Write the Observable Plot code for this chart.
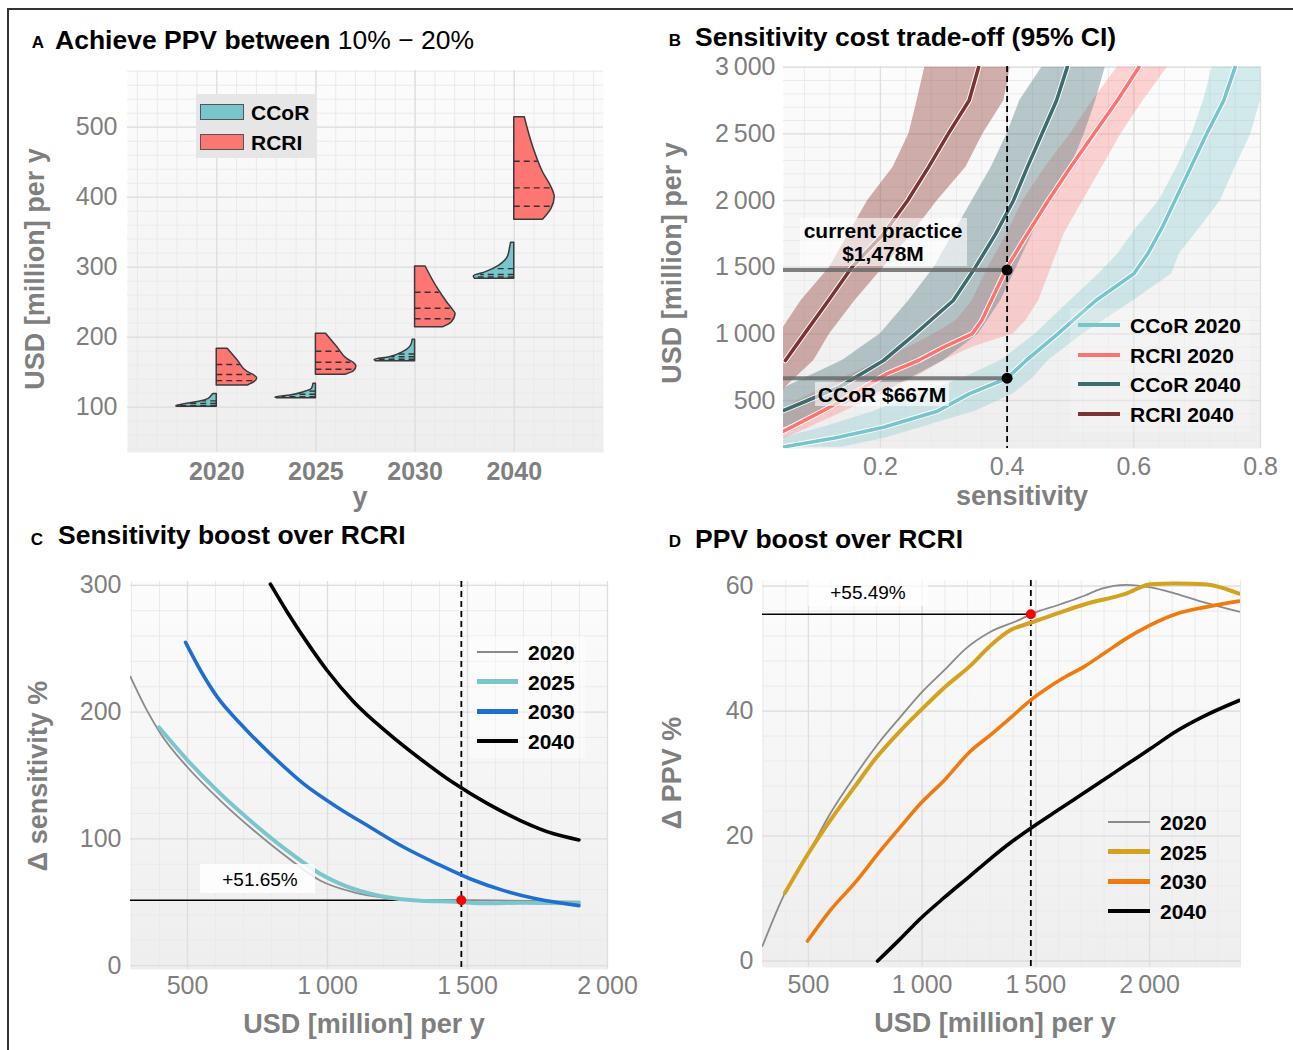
<!DOCTYPE html>
<html><head><meta charset="utf-8">
<script src="https://cdn.jsdelivr.net/npm/d3@7"></script>
<script src="https://cdn.jsdelivr.net/npm/@observablehq/plot@0.6"></script>
<style>
html,body{margin:0;padding:0;background:#fff;overflow:hidden}
#fig{position:relative;width:1293px;height:1050px;font-family:"Liberation Sans",Arial,Helvetica,sans-serif;overflow:hidden;background:#fff}
.abs{position:absolute;white-space:nowrap;line-height:1}
</style></head><body>
<svg width="0" height="0" style="position:absolute"><defs>
<linearGradient id="bgGrad" x1="0" y1="0" x2="0" y2="1"><stop offset="0" stop-color="#fcfcfc"/><stop offset="1" stop-color="#eeeeee"/></linearGradient>
</defs></svg>
<div id="fig"></div>
<script>
// ---------------- DATA ----------------
// Panel A: half-violin density profiles [value, relative density]
const yearsA = ["2020", "2025", "2030", "2040"];
const ccorViolins = [
  [[100.5,0.97],[101.5,1.0],[102.4,0.95],[105.7,0.66],[108.1,0.41],[112,0.2],[116.7,0.12],[119,0.08]],
  [[112.9,0.97],[114,1.0],[116.7,0.63],[121.4,0.3],[126.3,0.1],[133.4,0.06]],
  [[165.7,0.97],[167.7,1.0],[171.4,0.63],[178.6,0.3],[188,0.1],[196.3,0.06]],
  [[283.4,0.97],[286.7,1.0],[292.9,0.7],[302.4,0.37],[314.3,0.16],[328.6,0.1],[334.9,0.08]]
];
const rcriViolins = [
  [[131,0.77],[135.7,0.93],[141.4,1.0],[145.3,0.93],[150,0.77],[166.7,0.52],[183.4,0.27]],
  [[146.3,0.73],[151.4,0.94],[158,1.0],[162,0.96],[169,0.77],[185.7,0.53],[204.8,0.25]],
  [[214.3,0.7],[221.4,0.91],[233.4,1.0],[238,0.95],[250,0.79],[271.4,0.54],[301,0.26]],
  [[367.7,0.71],[383.4,0.92],[400,1.0],[414.3,0.92],[435.7,0.71],[471.4,0.47],[514.3,0.26]]
];
const ccorQuartiles = [[102.5,105.5,109],[115,118.5,123],[168.5,172,176],[286,289.5,298]];
const rcriQuartiles = [[138,146.7,161],[154.3,164.3,180],[226.3,241.4,264.3],[387.1,413.3,451.4]];

// Panel B: [USD, sensitivity low, sensitivity mid, sensitivity high]
const ccor2020B = [
  [150,0.00,0.045,0.14],[220,0.045,0.13,0.21],[300,0.11,0.205,0.265],[420,0.19,0.29,0.35],
  [550,0.26,0.34,0.41],[667,0.33,0.40,0.44],[800,0.39,0.43,0.465],[1000,0.445,0.48,0.52],
  [1250,0.5,0.54,0.6],[1450,0.545,0.6,0.66],[1600,0.575,0.622,0.672],[1800,0.605,0.645,0.705],
  [2000,0.64,0.665,0.737],[2250,0.668,0.69,0.76],[2500,0.692,0.715,0.785],[2750,0.71,0.742,0.8],
  [3000,0.724,0.76,0.82]
];
const rcri2020B = [
  [200,-0.02,null,0.04],[270,0.0,0.047,0.075],[400,0.035,0.1,0.135],[500,0.07,0.14,0.18],
  [600,0.11,0.175,0.225],[700,0.155,0.21,0.265],[800,0.2,0.26,0.3],[900,0.245,0.3,0.345],
  [1000,0.285,0.345,0.41],[1100,0.32,0.36,0.43],[1250,0.345,0.375,0.45],[1500,0.37,0.4,0.47],
  [1750,0.4,0.432,0.49],[2000,0.425,0.465,0.52],[2250,0.46,0.5,0.55],[2500,0.5,0.537,0.58],
  [2750,0.535,0.574,0.615],[3000,0.574,0.608,0.653]
];
const ccor2040B = [
  [300,-0.05,null,0.05],[425,0.0,0.047,0.12],[500,0.02,0.085,0.16],[600,0.05,0.135,0.22],
  [800,0.14,0.205,0.3],[1000,0.2,0.255,0.355],[1250,0.245,0.315,0.39],[1500,0.285,0.35,0.415],
  [1750,0.315,0.382,0.44],[2000,0.345,0.41,0.465],[2250,0.375,0.432,0.5],[2500,0.4,0.455,0.522],
  [2750,0.42,0.478,0.54],[3000,0.455,0.495,0.555]
];
const rcri2040B = [
  [500,-0.05,null,0.03],[600,-0.04,null,0.05],[800,-0.01,0.05,0.095],[1000,0.04,0.08,0.12],
  [1250,0.075,0.118,0.16],[1500,0.12,0.155,0.205],[1750,0.15,0.205,0.25],[2000,0.18,0.243,0.29],
  [2250,0.22,0.276,0.335],[2500,0.245,0.307,0.362],[2750,0.258,0.34,0.395],[3000,0.27,0.355,0.405]
];
const seriesB = ["CCoR 2020", "RCRI 2020", "CCoR 2040", "RCRI 2040"];
const currentSens = 0.4, currentCost = 1478, ccorCost = 667;

// Panel C: [USD, delta sensitivity %]
const c2020 = [[296,228],[356,201],[404,183],[500,156.5],[618,130],[737,106.6],[856,85.5],[975,67],[1094,57.9],[1213,53.4],[1332,51.3],[1478,51.65],[1600,51.5],[1750,51],[1900,50.5]];
const c2025 = [[398,188],[500,162],[618,135.5],[737,112],[856,90.8],[975,72.4],[1094,60.5],[1213,54],[1332,51.3],[1452,50.5],[1570,49.2],[1689,49.7],[1898,49.2]];
const c2030 = [[493,255],[546,233],[606,212],[689,190.8],[796,167],[915,143.4],[1035,125],[1154,109],[1273,93.4],[1392,80.3],[1511,68.4],[1630,59.2],[1749,52.6],[1898,47.4]];
const c2040 = [[796,301],[856,279],[927,255],[998,233],[1094,208],[1213,184],[1332,163],[1451,144],[1570,128],[1689,114.5],[1808,104],[1898,99.2]];
const cBoost = 51.65;

// Panel D: [USD, delta PPV %]
const d2020 = [[298,2.4],[397,10.9],[496,17],[596,23.6],[704,29.6],[813,35.1],[903,39],[993,42.8],[1102,46.7],[1192,50],[1301,52.7],[1427,54.6],[1478,55.49],[1608,57.1],[1716,58.5],[1789,59.6],[1897,60.2],[2005,59.8],[2114,58.8],[2240,57.4],[2394,55.9]];
const d2025 = [[397,10.9],[496,17],[596,22.5],[704,27.9],[795,32.4],[903,36.8],[993,40.1],[1102,43.9],[1210,47.2],[1301,50.5],[1391,53],[1476,54.1],[1608,55.8],[1716,57.1],[1897,58.8],[2005,60.3],[2114,60.4],[2240,60.3],[2394,58.8]];
const d2030 = [[496,3.2],[596,8.1],[704,12.5],[813,17.5],[903,21.4],[993,25.2],[1102,29.1],[1210,33.5],[1301,36.2],[1391,39],[1476,41.7],[1608,45],[1716,47.2],[1807,49.4],[1897,51.6],[2005,53.8],[2114,55.5],[2240,56.6],[2394,57.6]];
const d2040 = [[804,0],[903,3.5],[993,6.8],[1102,10.3],[1210,13.6],[1301,16.4],[1391,19],[1476,21.2],[1608,24.4],[1716,27],[1807,29.2],[1897,31.4],[2005,34],[2114,36.7],[2240,39.2],[2394,41.7]];
const dBoost = 55.49;
const yearsCD = ["2020", "2025", "2030", "2040"];

// ---------------- HELPERS ----------------
const fig = document.getElementById("fig");
const FONT = '"Liberation Sans", Arial, Helvetica, sans-serif';
const GRAY = "#7f7f7f";
const fmtK = d => d >= 1000 ? String(d).replace(/(\d)(\d{3})$/, "$1\u2009$2") : String(d);
const majorG = {stroke: "#dedede", strokeOpacity: 1, strokeWidth: 1.3};
const minorG = {stroke: "#eaeaea", strokeOpacity: 1, strokeWidth: 1};
const range = (a, b, s) => { const r = []; for (let k = 0; a + k * s <= b + 1e-9; k++) r.push(+(a + k * s).toFixed(6)); return r; };

function place(el, left, top) {
  el.style.position = "absolute"; el.style.left = left + "px"; el.style.top = top + "px";
  fig.appendChild(el);
}
function addText(html, x, y, o = {}) {
  const d = document.createElement("div");
  d.className = "abs";
  d.innerHTML = html;
  d.style.left = x + "px"; d.style.top = y + "px";
  d.style.fontSize = (o.size || 20) + "px";
  d.style.fontWeight = o.weight || "normal";
  d.style.color = o.color || "#000";
  if (o.align) d.style.textAlign = o.align;
  if (o.lh) d.style.lineHeight = o.lh;
  const tx = o.anchor === "start" ? "0" : "-50%";
  d.style.transform = `translate(${tx},-50%)` + (o.rotate ? ` rotate(${o.rotate}deg)` : "");
  fig.appendChild(d);
  return d;
}
function addBox(x, y, w, h, bg, border) {
  const d = document.createElement("div");
  d.className = "abs";
  Object.assign(d.style, {left: x + "px", top: y + "px", width: w + "px", height: h + "px", background: bg, boxSizing: "border-box"});
  if (border) d.style.border = border;
  fig.appendChild(d);
  return d;
}
function addSwatch(x1, x2, y, color, t) {
  addBox(x1, y - t / 2, x2 - x1, t, color);
}
const baseStyle = {background: "transparent", fontFamily: FONT, overflow: "visible"};

// ---------------- PANEL A ----------------
const W = 0.408;
function widthAt(prof, v) {
  for (let k = 0; k < prof.length - 1; k++) {
    const [v0, d0] = prof[k], [v1, d1] = prof[k + 1];
    if (v >= v0 && v <= v1) return d0 + (d1 - d0) * (v - v0) / (v1 - v0);
  }
  return prof[prof.length - 1][1];
}
const ccorRows = [], rcriRows = [], quartRows = [];
ccorViolins.forEach((prof, i) => prof.forEach(([v, d]) => ccorRows.push({grp: i, v, x1: i, x2: i - d * W})));
rcriViolins.forEach((prof, i) => prof.forEach(([v, d]) => rcriRows.push({grp: i, v, x1: i, x2: i + d * W})));
ccorQuartiles.forEach((qs, i) => qs.forEach(q => quartRows.push({v: q, x1: i, x2: i - widthAt(ccorViolins[i], q) * W * 0.96})));
rcriQuartiles.forEach((qs, i) => qs.forEach(q => quartRows.push({v: q, x1: i, x2: i + widthAt(rcriViolins[i], q) * W * 0.96})));

const plotA = Plot.plot({
  width: 640, height: 510, marginLeft: 127, marginRight: 37, marginTop: 70, marginBottom: 58,
  x: {domain: [-0.9, 3.9]}, y: {domain: [35.3, 581]},
  style: baseStyle,
  marks: [
    Plot.frame({fill: "url(#bgGrad)"}),
    Plot.gridX(range(-0.8, 3.8, 0.2), minorG),
    Plot.gridY(range(40, 580, 20), minorG),
    Plot.gridX([0, 1, 2, 3], majorG),
    Plot.gridY([100, 200, 300, 400, 500], majorG),
    Plot.areaX(ccorRows, {y: "v", x1: "x1", x2: "x2", z: "grp", fill: "#78c5cc", stroke: "#3a3a3a", strokeWidth: 1.5, curve: "monotone-y"}),
    Plot.areaX(rcriRows, {y: "v", x1: "x1", x2: "x2", z: "grp", fill: "#fe7672", stroke: "#3a3a3a", strokeWidth: 1.5, curve: "monotone-y"}),
    Plot.ruleY(quartRows, {y: "v", x1: "x1", x2: "x2", stroke: "#333", strokeWidth: 1.4, strokeDasharray: "6,4"}),
    Plot.axisX([0, 1, 2, 3], {tickFormat: i => yearsA[i], tickSize: 0, tickPadding: 10, fontSize: 25, fontWeight: "bold", fill: GRAY, label: null}),
    Plot.axisY([100, 200, 300, 400, 500], {tickSize: 0, tickPadding: 10, fontSize: 25, fill: GRAY, label: null})
  ]
});
place(plotA, 0, 0);

// ---------------- PANEL B ----------------
const bandCfg = [
  {rows: ccor2020B, color: "#77c4cb", op: 0.3},
  {rows: rcri2020B, color: "#fd7470", op: 0.3},
  {rows: ccor2040B, color: "#4a7478", op: 0.38},
  {rows: rcri2040B, color: "#8b3a33", op: 0.4}
];
const lineColorsB = ["#77c4cb", "#fb7470", "#3e6b6e", "#7c3333"];
const marksB = [
  Plot.frame({fill: "url(#bgGrad)"}),
  Plot.gridX(range(0.08, 0.76, 0.04), minorG),
  Plot.gridY(range(200, 3000, 100), minorG),
  Plot.gridX([0.2, 0.4, 0.6, 0.8], majorG),
  Plot.gridY([500, 1000, 1500, 2000, 2500, 3000], majorG)
];
bandCfg.forEach(b => marksB.push(Plot.areaX(b.rows, {y: d => d[0], x1: d => d[1], x2: d => d[3], fill: b.color, fillOpacity: b.op, clip: true})));
bandCfg.forEach((b, k) => {
  const pts = b.rows.filter(d => d[2] != null);
  marksB.push(Plot.line(pts, {x: d => d[2], y: d => d[0], stroke: "white", strokeWidth: 5.5, clip: true}));
  marksB.push(Plot.line(pts, {x: d => d[2], y: d => d[0], stroke: lineColorsB[k], strokeWidth: 3.6, clip: true}));
});
marksB.push(
  Plot.ruleY([currentCost, ccorCost], {x1: 0.047, x2: currentSens, stroke: "#6a6a6a", strokeWidth: 4, strokeOpacity: 0.85}),
  Plot.ruleX([currentSens], {stroke: "black", strokeWidth: 1.8, strokeDasharray: "6,4"}),
  Plot.dot([[currentSens, currentCost], [currentSens, ccorCost]], {x: d => d[0], y: d => d[1], r: 5.5, fill: "black"}),
  Plot.axisX([0.2, 0.4, 0.6, 0.8], {tickFormat: d => d.toFixed(1), tickSize: 0, tickPadding: 9, fontSize: 25, fill: GRAY, label: null}),
  Plot.axisY([500, 1000, 1500, 2000, 2500, 3000], {tickFormat: fmtK, tickSize: 0, tickPadding: 8, fontSize: 25, fill: GRAY, label: null})
);
const plotB = Plot.plot({
  width: 648, height: 520, marginLeft: 138, marginRight: 33, marginTop: 66, marginBottom: 72,
  x: {domain: [0.047, 0.8]}, y: {domain: [140, 3005]},
  style: baseStyle, marks: marksB
});
place(plotB, 645, 0);

// ---------------- PANEL C ----------------
const plotC = Plot.plot({
  width: 645, height: 535, marginLeft: 130, marginRight: 38, marginTop: 66, marginBottom: 81,
  x: {domain: [296.4, 2000]}, y: {domain: [-3, 303]},
  style: baseStyle,
  marks: [
    Plot.frame({fill: "url(#bgGrad)"}),
    Plot.gridX(range(300, 2000, 100), minorG),
    Plot.gridY(range(0, 300, 20), minorG),
    Plot.gridX([500, 1000, 1500, 2000], majorG),
    Plot.gridY([0, 100, 200, 300], majorG),
    Plot.ruleY([cBoost], {x1: 296.4, x2: currentCost, stroke: "black", strokeWidth: 1.4}),
    Plot.ruleX([currentCost], {stroke: "black", strokeWidth: 1.8, strokeDasharray: "6,4"}),
    Plot.line(c2020, {x: d => d[0], y: d => d[1], stroke: "#8a8a8a", strokeWidth: 1.8, curve: "monotone-x", clip: true}),
    Plot.line(c2025, {x: d => d[0], y: d => d[1], stroke: "#7ac6cc", strokeWidth: 4, curve: "monotone-x", clip: true}),
    Plot.line(c2030, {x: d => d[0], y: d => d[1], stroke: "#1f6fd0", strokeWidth: 3.6, curve: "monotone-x", clip: true}),
    Plot.line(c2040, {x: d => d[0], y: d => d[1], stroke: "black", strokeWidth: 3.6, curve: "monotone-x", clip: true}),
    Plot.dot([[currentCost, cBoost]], {x: d => d[0], y: d => d[1], r: 5, fill: "#ff0000"}),
    Plot.axisX([500, 1000, 1500, 2000], {tickFormat: fmtK, tickSize: 0, tickPadding: 7, fontSize: 25, fill: GRAY, label: null}),
    Plot.axisY([0, 100, 200, 300], {tickSize: 0, tickPadding: 9, fontSize: 25, fill: GRAY, label: null})
  ]
});
place(plotC, 0, 515);

// ---------------- PANEL D ----------------
const plotD = Plot.plot({
  width: 648, height: 535, marginLeft: 117, marginRight: 53, marginTop: 65, marginBottom: 83,
  x: {domain: [298, 2400]}, y: {domain: [-1.04, 60.9]},
  style: baseStyle,
  marks: [
    Plot.frame({fill: "url(#bgGrad)"}),
    Plot.gridX(range(300, 2400, 100), minorG),
    Plot.gridY(range(0, 60, 4), minorG),
    Plot.gridX([500, 1000, 1500, 2000], majorG),
    Plot.gridY([0, 20, 40, 60], majorG),
    Plot.ruleY([dBoost], {x1: 298, x2: currentCost, stroke: "black", strokeWidth: 1.4}),
    Plot.ruleX([currentCost], {stroke: "black", strokeWidth: 1.8, strokeDasharray: "6,4"}),
    Plot.line(d2020, {x: d => d[0], y: d => d[1], stroke: "#8a8a8a", strokeWidth: 1.8, curve: "monotone-x", clip: true}),
    Plot.line(d2025, {x: d => d[0], y: d => d[1], stroke: "#d4a21f", strokeWidth: 4, curve: "monotone-x", clip: true}),
    Plot.line(d2030, {x: d => d[0], y: d => d[1], stroke: "#f07a0e", strokeWidth: 3.6, curve: "monotone-x", clip: true}),
    Plot.line(d2040, {x: d => d[0], y: d => d[1], stroke: "black", strokeWidth: 3.6, curve: "monotone-x", clip: true}),
    Plot.dot([[currentCost, dBoost]], {x: d => d[0], y: d => d[1], r: 5, fill: "#ff0000"}),
    Plot.axisX([500, 1000, 1500, 2000], {tickFormat: fmtK, tickSize: 0, tickPadding: 8, fontSize: 25, fill: GRAY, label: null}),
    Plot.axisY([0, 20, 40, 60], {tickSize: 0, tickPadding: 9, fontSize: 25, fill: GRAY, label: null})
  ]
});
place(plotD, 645, 515);

// ---------------- TEXT, LEGENDS, ANNOTATIONS ----------------
addText("A", 38, 42, {size: 17, weight: "bold"});
addText('<b>Achieve PPV between</b> <span style="font-weight:normal">10% \u2212 20%</span>', 55, 40, {size: 26.5, anchor: "start"});
addText("B", 675, 40, {size: 17, weight: "bold"});
addText("Sensitivity cost trade-off (95% CI)", 695, 37, {size: 26.5, weight: "bold", anchor: "start"});
addText("C", 37, 539, {size: 17, weight: "bold"});
addText("Sensitivity boost over RCRI", 58, 535, {size: 26.5, weight: "bold", anchor: "start"});
addText("D", 675, 541, {size: 17, weight: "bold"});
addText("PPV boost over RCRI", 695, 539, {size: 26.5, weight: "bold", anchor: "start"});

addText("USD [million] per y", 35, 269, {size: 27, weight: "bold", color: GRAY, rotate: -90});
addText("y", 360, 497, {size: 27, weight: "bold", color: GRAY});
addText("USD [million] per y", 672, 263, {size: 27, weight: "bold", color: GRAY, rotate: -90});
addText("sensitivity", 1022, 496, {size: 27, weight: "bold", color: GRAY});
addText("\u0394 sensitivity %", 38, 776, {size: 27, weight: "bold", color: GRAY, rotate: -90});
addText("USD [million] per y", 364, 1024, {size: 27, weight: "bold", color: GRAY});
addText("\u0394 PPV %", 672, 773, {size: 27, weight: "bold", color: GRAY, rotate: -90});
addText("USD [million] per y", 995, 1023, {size: 27, weight: "bold", color: GRAY});

// legend A
addBox(196, 94, 120, 64, "#e6e6e6");
addBox(200, 104, 44, 16, "#78c5cc", "1px solid #555");
addBox(200, 134, 44, 16, "#fe7672", "1px solid #555");
addText("CCoR", 251, 112, {size: 21, weight: "bold", anchor: "start"});
addText("RCRI", 251, 142, {size: 21, weight: "bold", anchor: "start"});

// legend B
addBox(1070, 308, 180, 124, "rgba(255,255,255,0.2)");
seriesB.forEach((s, k) => {
  const y = 325 + k * 29.7;
  addSwatch(1078, 1120, y, lineColorsB[k], 4);
  addText(s, 1130, y, {size: 21, weight: "bold", anchor: "start"});
});
addBox(800, 218, 167, 48, "rgba(255,255,255,0.6)");
addText("current practice<br>$1,478M", 883, 242, {size: 21, weight: "bold", align: "center", lh: "1.1"});
addBox(815, 382, 134, 24, "rgba(255,255,255,0.6)");
addText("CCoR $667M", 882, 394, {size: 21, weight: "bold"});

// legend C
const colorsC = ["#8a8a8a", "#7ac6cc", "#1f6fd0", "black"];
const colorsD = ["#8a8a8a", "#d4a21f", "#f07a0e", "black"];
const thick = [2, 4.5, 4.5, 4.5];
addBox(470, 636, 115, 122, "rgba(255,255,255,0.45)");
yearsCD.forEach((s, k) => {
  const y = 652 + k * 29.7;
  addSwatch(477, 518, y, colorsC[k], thick[k]);
  addText(s, 528, y, {size: 21, weight: "bold", anchor: "start"});
});
addBox(200, 864, 115, 29, "rgba(255,255,255,0.85)");
addText("+51.65%", 260, 879, {size: 19});

// legend D
yearsCD.forEach((s, k) => {
  const y = 822 + k * 29.7;
  addSwatch(1108, 1150, y, colorsD[k], thick[k]);
  addText(s, 1160, y, {size: 21, weight: "bold", anchor: "start"});
});
addBox(808, 577, 120, 29, "rgba(255,255,255,0.7)");
addText("+55.49%", 868, 592, {size: 19});

// outer frame
const frame = document.createElement("div");
Object.assign(frame.style, {position: "absolute", left: "7px", top: "8px", width: "1284px", height: "1100px", border: "2px solid #333", pointerEvents: "none"});
fig.appendChild(frame);
</script>
</body></html>
